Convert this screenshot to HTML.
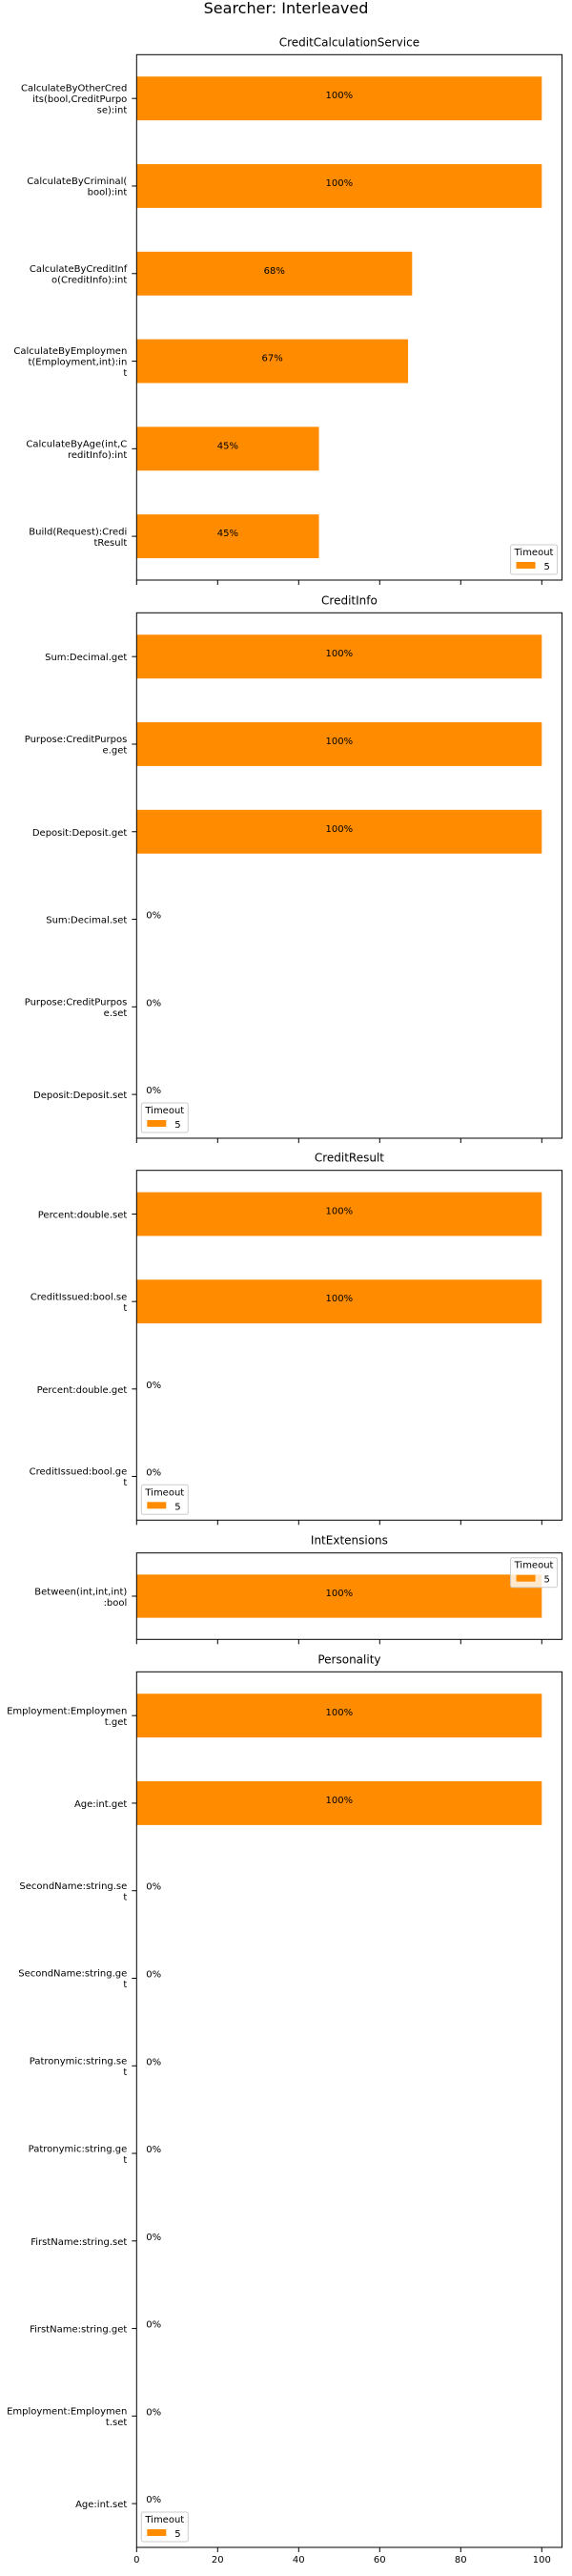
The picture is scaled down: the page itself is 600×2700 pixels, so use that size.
<!DOCTYPE html>
<html><head><meta charset="utf-8"><style>
html,body{margin:0;padding:0;background:#fff;}
svg{display:block;font-family:"DejaVu Sans","Liberation Sans",sans-serif;}
</style></head><body>
<svg id="chart" width="600" height="2700" viewBox="0 0 600 2700" xmlns="http://www.w3.org/2000/svg">
<text x="300" y="14" font-size="16" text-anchor="middle">Searcher: Interleaved</text>
</svg>
<script>
const panelTitles = ["CreditCalculationService","CreditInfo","CreditResult","IntExtensions","Personality"];
const cats1 = ["CalculateByOtherCred\nits(bool,CreditPurpo\nse):int","CalculateByCriminal(\nbool):int","CalculateByCreditInf\no(CreditInfo):int","CalculateByEmploymen\nt(Employment,int):in\nt","CalculateByAge(int,C\nreditInfo):int","Build(Request):Credi\ntResult"];
const vals1 = [100,100,68,67,45,45];
const cats2 = ["Sum:Decimal.get","Purpose:CreditPurpos\ne.get","Deposit:Deposit.get","Sum:Decimal.set","Purpose:CreditPurpos\ne.set","Deposit:Deposit.set"];
const vals2 = [100,100,100,0,0,0];
const cats3 = ["Percent:double.set","CreditIssued:bool.se\nt","Percent:double.get","CreditIssued:bool.ge\nt"];
const vals3 = [100,100,0,0];
const cats4 = ["Between(int,int,int)\n:bool"];
const vals4 = [100];
const cats5 = ["Employment:Employmen\nt.get","Age:int.get","SecondName:string.se\nt","SecondName:string.ge\nt","Patronymic:string.se\nt","Patronymic:string.ge\nt","FirstName:string.set","FirstName:string.get","Employment:Employmen\nt.set","Age:int.set"];
const vals5 = [100,100,0,0,0,0,0,0,0,0];
const xTicks = [0,20,40,60,80,100];

const svg = document.getElementById('chart');
const NS = 'http://www.w3.org/2000/svg';
function mk(tag, attrs, parent){const e=document.createElementNS(NS,tag);for(const k in attrs)e.setAttribute(k,attrs[k]);(parent||svg).appendChild(e);return e;}
const X0=143.3, XMAX=105, PXU=4.25;
const X1=X0+XMAX*PXU;
function xs(v){return X0+v*PXU;}

const layout=[
 {cats:cats1,vals:vals1,top:57.3,bot:608,leg:'lr'},
 {cats:cats2,vals:vals2,top:642.3,bot:1193,leg:'ll'},
 {cats:cats3,vals:vals3,top:1226.7,bot:1593.3,leg:'ll'},
 {cats:cats4,vals:vals4,top:1627.7,bot:1718.3,leg:'ur'},
 {cats:cats5,vals:vals5,top:1752.3,bot:2670,leg:'ll'}
];

layout.forEach((p,pi)=>{
  const g=mk('g',{});
  
  
  const n=p.cats.length, step=(p.bot-p.top)/n;
  function ys(i){return p.top+step*(i+0.5);}
  const t=mk('text',{x:(X0+X1)/2,y:p.top-9,'font-size':12,'text-anchor':'middle'},g);
  t.textContent=panelTitles[pi];
  
  
  p.vals.forEach((v,i)=>{
    const cy=ys(i), h=step*0.5;
    if(v>0){
      const r=mk('rect',{x:X0,y:cy-h/2,width:xs(v)-X0,height:h,fill:'#ff8c00'},g);
      
      
    }
    const lt=mk('text',{x:v>0?xs(v/2):X0+10,y:v>0?cy:cy-1,'font-size':10,'text-anchor':v>0?'middle':'start'},g);
    lt.textContent=v+'%';
    
    
    mk('line',{x1:X0-5,x2:X0,y1:cy,y2:cy,stroke:'#000','stroke-width':1},g);
    const lines=p.cats[i].split('\n');
    const yl=mk('text',{x:X0-10,y:cy+4-(lines.length-1)*11.5/2,'font-size':10,'text-anchor':'end'},g);
    
    
    lines.forEach((l,li)=>{const ts=mk('tspan',{x:X0-10,dy:li?11.5:0},yl);ts.textContent=l;});
  });
  mk('rect',{x:X0,y:p.top,width:X1-X0,height:p.bot-p.top,fill:'none',stroke:'#000','stroke-width':1},g);
  xTicks.forEach(tv=>{
    mk('line',{x1:xs(tv),x2:xs(tv),y1:p.bot,y2:p.bot+5,stroke:'#000','stroke-width':1},g);
    if(pi===layout.length-1){
      const tl=mk('text',{x:xs(tv),y:p.bot+16,'font-size':10,'text-anchor':'middle'},g);
      tl.textContent=tv;
      
      
    }
  });
  const lw=49,lh=31;
  let lx,ly;
  if(p.leg==='lr'){lx=X1-5-lw;ly=p.bot-6-lh;}
  else if(p.leg==='ll'){lx=X0+5;ly=p.bot-6-lh;}
  else {lx=X1-5-lw;ly=p.top+5;}
  const lg=mk('g',{},g);
  
  
  mk('rect',{x:lx,y:ly,width:lw,height:lh,rx:2,fill:'#fff','fill-opacity':0.8,stroke:'#ccc'},lg);
  const tt=mk('text',{x:lx+lw/2,y:ly+11,'font-size':10,'text-anchor':'middle'},lg);tt.textContent='Timeout';
  mk('rect',{x:lx+6,y:ly+18,width:20,height:7,fill:'#ff8c00'},lg);
  const t5=mk('text',{x:lx+35,y:ly+26,'font-size':10},lg);t5.textContent='5';
});
</script>
</body></html>
